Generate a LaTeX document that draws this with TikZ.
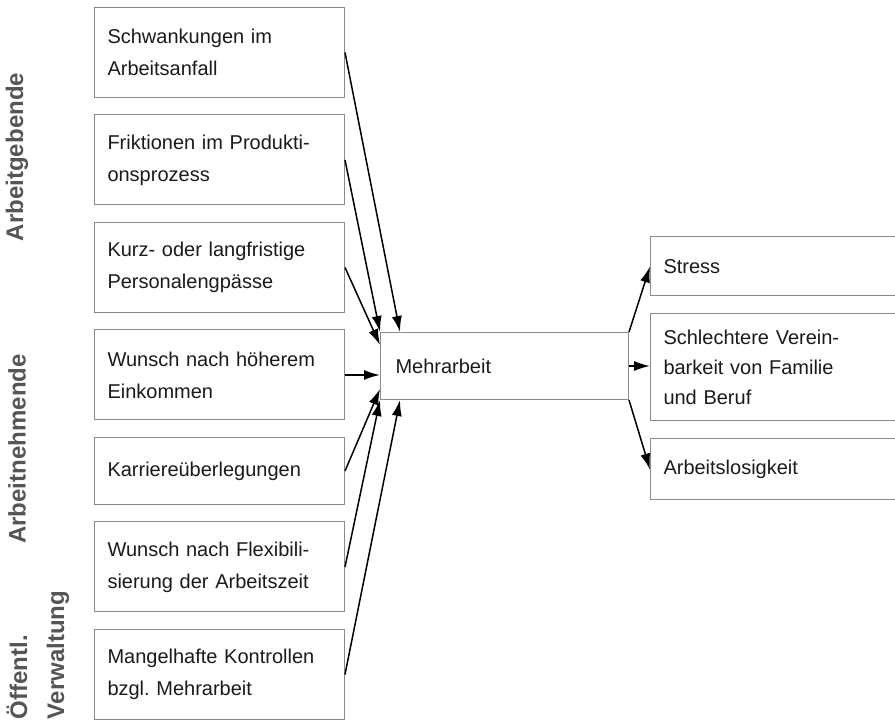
\documentclass[tikz,border=0pt]{standalone}
\usepackage{fontspec}
\setmainfont{Liberation Sans}
\frenchspacing
\usepackage{tikz}
\usetikzlibrary{positioning}
\usetikzlibrary{calc,arrows.meta}
\definecolor{mh-text}{HTML}{1A1A1A}
\definecolor{mh-border}{HTML}{8A8A8A}
\definecolor{mh-label}{HTML}{555555}
\tikzset{basic/.style={draw=mh-border,line width=0.5pt,text=mh-text,align=left,inner xsep=6.5pt,font=\fontsize{10}{16}\selectfont}}
\tikzset{cause/.style={basic,text width=112pt,minimum height=45pt}}
\tikzset{effect/.style={basic,draw=none,text width=150pt,font=\fontsize{10}{15}\selectfont}}

\begin{document}
\begin{tikzpicture}[
    node distance=8.25pt,
    >={Latex[length=8pt,width=5pt]}
  ]

  % Frame of the page (the right column runs off the edge)
  \useasboundingbox (0,0) rectangle (447.5pt,-360.5pt);
  \clip (0,0) rectangle (447.5pt,-360.5pt);

  % Group labels, turned upright
  \tikzset{
    group/.style={rotate=90, text=mh-label, font=\fontsize{12}{18.5}\selectfont\bfseries, align=left, inner sep=0pt},
    link/.style={->, line width=0.75pt, black},
    frame/.style={draw=mh-border, line width=0.5pt}
  }

  \node (ag) [group] at (8.5pt,-78.5pt) {Arbeitgebende};
  \node (an) [group] at (8.5pt,-224.5pt) {Arbeitnehmende};
  \node (ov) [group] at (19pt,-327.5pt) {Öffentl.\\Verwaltung};

  % Left column: causes
  \node (schw) [cause, anchor=north west] at (47pt,-3.5pt) {Schwankungen im\\Arbeitsanfall};
  \node (frik) [cause, below=of schw] {Friktionen im Produkti-\\onsprozess};
  \node (pers) [cause, below=of frik] {Kurz- oder langfristige\\Personalengpässe};
  \node (eink) [cause, below=of pers] {Wunsch nach höherem\\Einkommen};
  \node (karr) [cause, below=of eink, minimum height=33.5pt] {Karriereüberlegungen};
  \node (flex) [cause, below=of karr] {Wunsch nach Flexibili-\\sierung der Arbeitszeit};
  \node (kont) [cause, below=of flex] {Mangelhafte Kontrollen\\bzgl. Mehrarbeit};

  % Middle: the overtime itself
  \node (mehr) [basic, anchor=north west, text width=109pt, minimum height=33.5pt, inner xsep=7.5pt] at (190pt,-166pt) {Mehrarbeit};

  % Right column: consequences (boxes run off the right edge)
  \node (stress) [effect, anchor=north west, minimum height=29pt] at (325pt,-118.5pt) {Stress};
  \node (fam) [effect, below=9pt of stress, minimum height=53pt] {Schlechtere Verein-\\barkeit von Familie\\und Beruf};
  \node (arbl) [effect, below=9pt of fam, minimum height=30pt] {Arbeitslosigkeit};

  \foreach \n in {stress,fam,arbl}
    \draw[frame] (\n.north east) -- (\n.north west) -- (\n.south west) -- (\n.south east);

  % Connections into Mehrarbeit
  \draw[link] (schw.east) -- ([xshift=10pt]mehr.north west);
  \draw[link] (frik.east) -- (mehr.north west);
  \draw[link] (pers.east) -- ([yshift=-6.5pt]mehr.north west);
  \draw[link] (eink.east) -- (eink.east -| mehr.west);
  \draw[link] (karr.east) -- ([yshift=5.5pt]mehr.south west);
  \draw[link] (flex.east) -- (mehr.south west);
  \draw[link] (kont.east) -- ([xshift=10pt]mehr.south west);

  % Connections out of Mehrarbeit
  \draw[link] (mehr.north east) -- (stress.west);
  \draw[link] (mehr.east) -- (mehr.east -| fam.west);
  \draw[link] (mehr.south east) -- (arbl.west);

\end{tikzpicture}
\end{document}
